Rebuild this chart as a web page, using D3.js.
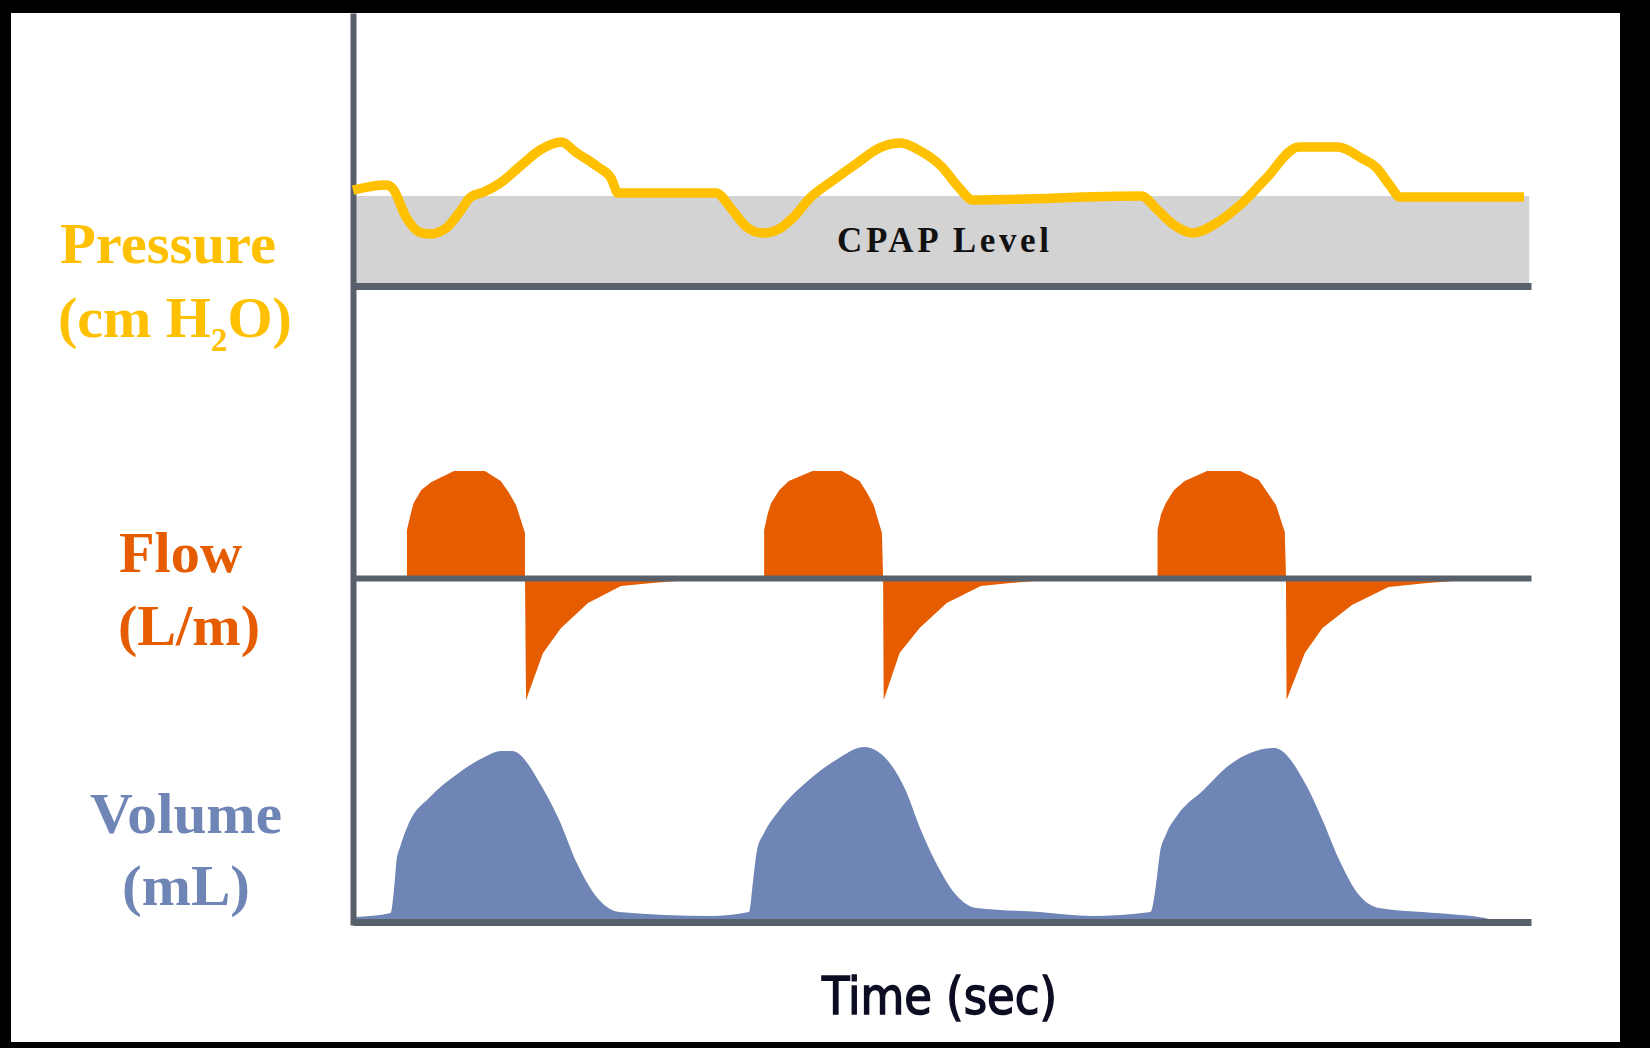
<!DOCTYPE html>
<html><head><meta charset="utf-8">
<script src="https://cdn.jsdelivr.net/npm/d3@7"></script>
<style>html,body{margin:0;padding:0;background:#000;} svg{display:block}</style>
</head><body>
<svg id="chart" width="1650" height="1048"></svg>
<script>
// ---- data (time in sec, pressure in cm H2O, flow in L/m, volume in mL) ----
const cpapLevel = 5;
const pressureTime = [0, 0.28, 0.335, 0.45, 0.56, 0.65, 0.79, 0.90, 1.00, 1.11, 1.25, 1.43, 1.59, 1.77, 1.89, 2.08, 2.19, 2.25, 3.08, 3.22, 3.34, 3.48, 3.63, 3.74, 3.88, 4.08, 4.28, 4.47, 4.65, 4.80, 5.00, 5.14, 5.26, 6.69, 6.83, 6.97, 7.13, 7.33, 7.53, 7.74, 8.03, 8.36, 8.56, 8.69, 8.80, 8.89, 9.94];
const pressureValue = [5.33, 5.61, 5.44, 3.83, 3.0, 2.89, 3.22, 4.06, 4.94, 5.22, 5.72, 6.72, 7.56, 8.0, 7.44, 6.61, 6.0, 5.17, 5.17, 4.22, 3.28, 2.94, 3.22, 3.83, 4.89, 5.89, 6.83, 7.67, 7.94, 7.56, 6.61, 5.5, 4.78, 5.0, 4.22, 3.39, 2.94, 3.5, 4.5, 5.89, 7.72, 7.72, 7.11, 6.56, 5.61, 4.94, 4.94];

const flowTime = [0, 0.458, 0.458, 0.49, 0.515, 0.58, 0.666, 0.857, 1.12, 1.254, 1.32, 1.384, 1.46, 1.46, 1.469, 1.613, 1.766, 1.995, 2.275, 2.54, 2.95, 3.49, 3.49, 3.52, 3.55, 3.62, 3.70, 3.90, 4.15, 4.30, 4.36, 4.42, 4.49, 4.50, 4.505, 4.64, 4.81, 5.04, 5.33, 5.58, 6.0, 6.83, 6.83, 6.86, 6.90, 6.97, 7.06, 7.25, 7.53, 7.69, 7.76, 7.835, 7.91, 7.92, 7.925, 8.08, 8.23, 8.48, 8.79, 9.12, 9.57, 10];
const flowValue = [0, 0, 24, 32, 37.5, 44, 48, 53.5, 53.5, 48.5, 43, 36.5, 22.5, 0, -61, -37.5, -25, -12.5, -4, -2.5, -0.5, 0, 24, 32, 37.5, 44, 48.5, 53.5, 53.5, 48.5, 43, 36.5, 22.5, 0, -61, -37.5, -25, -12.5, -4, -2.5, -0.5, 0, 24, 32, 37.5, 44, 48.5, 53.5, 53.5, 49, 43, 36.5, 23, 0, -61, -37.5, -25, -13.5, -4.5, -2.5, -0.5, 0];

const volumeTime = [0.017, 0.32, 0.35, 0.37, 0.40, 0.475, 0.645, 0.874, 1.10, 1.256, 1.35, 1.61, 1.75, 1.90, 2.09, 2.26, 3.03, 3.36, 3.40, 3.43, 3.49, 3.62, 3.87, 4.10, 4.34, 4.46, 4.69, 4.81, 4.95, 5.12, 5.29, 5.83, 6.27, 6.77, 6.82, 6.85, 6.90, 7.00, 7.22, 7.44, 7.82, 8.10, 8.23, 8.38, 8.54, 8.71, 9.30, 9.61, 9.70];
const volumeValue = [10, 18, 70, 124, 150, 198, 248, 294, 328, 342, 342, 268, 204, 118, 44, 20, 12, 20, 90, 144, 178, 224, 284, 324, 350, 340, 264, 190, 118, 54, 28, 20, 12, 20, 80, 138, 174, 214, 264, 314, 348, 270, 204, 120, 54, 28, 16, 8, 0];

const timeDomain = [0, 10];

// ---- layout ----
const svg = d3.select("#chart");
svg.append("rect").attr("x", 11).attr("y", 13).attr("width", 1609).attr("height", 1029).attr("fill", "#fff");

const x = d3.scaleLinear().domain(timeDomain).range([353, 1531]);
const yP = d3.scaleLinear().domain([0, 5]).range([286, 196]);
const yF = d3.scaleLinear().domain([0, 50]).range([578, 478]);
const yV = d3.scaleLinear().domain([0, 100]).range([922, 872]);
const yAll = d3.scaleLinear().domain([0, 1]).range([925, 13]);

const axisColor = "#58606b";
const cYellow = "#FFC000", cOrange = "#E65C00", cBlue = "#6E85B5";

// CPAP band
svg.append("rect")
  .attr("x", x(0.02)).attr("y", yP(cpapLevel))
  .attr("width", x(9.985) - x(0.02)).attr("height", yP(0) - yP(cpapLevel))
  .attr("fill", "#d3d3d3");

// Volume area
const vData = volumeTime.map((t, i) => [t, volumeValue[i]]);
svg.append("path").datum(vData)
  .attr("fill", cBlue)
  .attr("d", d3.area().x(d => x(d[0])).y0(yV(0)).y1(d => yV(d[1])).curve(d3.curveMonotoneX));

// Flow area
const fData = flowTime.map((t, i) => [t, flowValue[i]]);
svg.append("path").datum(fData)
  .attr("fill", cOrange)
  .attr("d", d3.area().x(d => x(d[0])).y0(yF(0)).y1(d => yF(d[1])));

// Baselines via axes
function baseline(yPos, w) {
  const g = svg.append("g").attr("transform", `translate(0,${yPos})`)
    .call(d3.axisBottom(x).ticks(0).tickSizeOuter(0));
  g.select(".domain").attr("stroke", axisColor).attr("stroke-width", w);
  g.selectAll("text").remove();
}
baseline(yP(0), 7);
baseline(yF(0), 6);
baseline(yV(0), 7);

// Vertical axis
const va = svg.append("g").attr("transform", `translate(${x(0)},0)`)
  .call(d3.axisLeft(yAll).ticks(0).tickSizeOuter(0));
va.select(".domain").attr("stroke", axisColor).attr("stroke-width", 6);

// Pressure line
const pData = pressureTime.map((t, i) => [t, pressureValue[i]]);
svg.append("path").datum(pData)
  .attr("fill", "none").attr("stroke", cYellow).attr("stroke-width", 9.5)
  .attr("stroke-linejoin", "round")
  .attr("d", d3.line().x(d => x(d[0])).y(d => yP(d[1])).curve(d3.curveMonotoneX));

// CPAP label
svg.append("text").attr("x", 837).attr("y", 252)
  .attr("font-family", "'Liberation Serif', 'Times New Roman', serif").attr("font-weight", "bold")
  .attr("font-size", 35).attr("fill", "#111")
  .attr("textLength", 212).attr("lengthAdjust", "spacing")
  .text("CPAP Level");

// Left labels
const serif = "'Liberation Serif', 'Times New Roman', serif";
function label(txt, xx, yy, col, len) {
  return svg.append("text").attr("x", xx).attr("y", yy)
    .attr("font-family", serif).attr("font-weight", "bold").attr("font-size", 58)
    .attr("fill", col).attr("textLength", len).attr("lengthAdjust", "spacingAndGlyphs")
    .text(txt);
}
label("Pressure", 60, 263, cYellow, 216);
const t2 = svg.append("text").attr("x", 58).attr("y", 337)
  .attr("font-family", serif).attr("font-weight", "bold").attr("font-size", 58).attr("fill", cYellow);
t2.append("tspan").text("(cm H");
t2.append("tspan").attr("font-size", 33).attr("dy", 14).text("2");
t2.append("tspan").attr("dy", -14).text("O)");

label("Flow", 119, 572, cOrange, 123);
label("(L/m)", 118, 645, cOrange, 142);
label("Volume", 90, 833, cBlue, 192);
label("(mL)", 122, 905, cBlue, 128);

// Time label
svg.append("text").attr("x", 822).attr("y", 1014)
  .attr("font-family", "'DejaVu Sans Condensed', 'DejaVu Sans', Verdana, sans-serif")
  .attr("font-size", 51).attr("fill", "#0c0c22")
  .attr("stroke", "#0c0c22").attr("stroke-width", 1.4)
  .attr("textLength", 235).attr("lengthAdjust", "spacingAndGlyphs")
  .text("Time (sec)");
</script>
</body></html>
